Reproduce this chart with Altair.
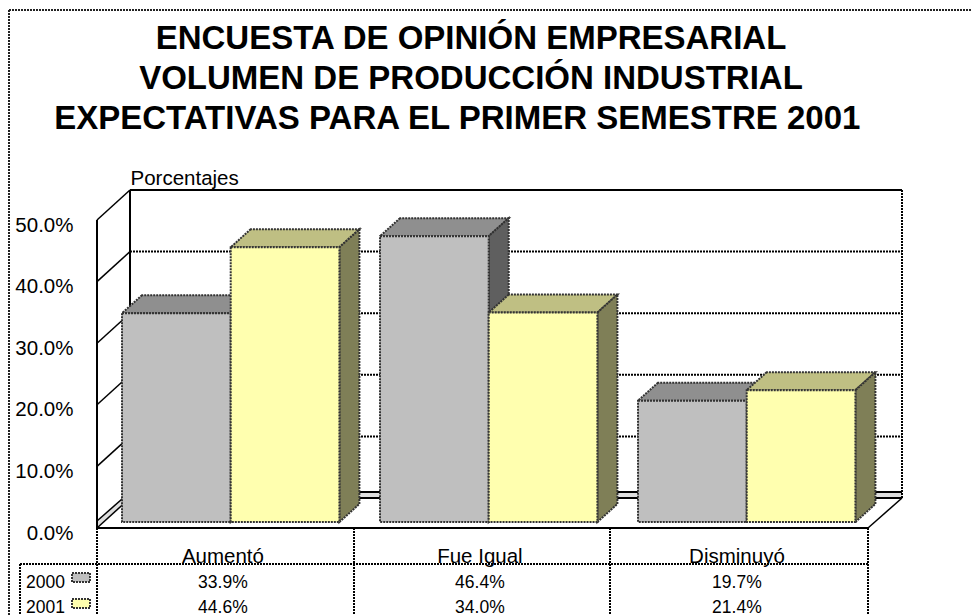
import altair as alt
import pandas as pd

title_lines = ["ENCUESTA DE OPINIÓN EMPRESARIAL",
               "VOLUMEN DE PRODUCCIÓN INDUSTRIAL",
               "EXPECTATIVAS PARA EL PRIMER SEMESTRE 2001\u00a0\u00a0\u00a0\u200b"]
categories = ["Aumentó", "Fue Igual", "Disminuyó"]
series_names = ["2000", "2001"]
values_2000 = [33.9, 46.4, 19.7]
values_2001 = [44.6, 34.0, 21.4]
y_ticks = [0, 10, 20, 30, 40, 50]

FONT = "Liberation Sans"
PX_X = 257.0      # pixels per category
PX_Y = 6.16       # pixels per percentage point
X0, Y0 = 97, 528  # page position of the front floor corner
W, H = 805, 338

def xu(px):
    return (px - X0) / PX_X

def yu(py):
    return (Y0 - py) / PX_Y

xs = alt.Scale(domain=[0, W / PX_X], nice=False, zero=False)
ys = alt.Scale(domain=[0, H / PX_Y], nice=False, zero=False)
y_axis = alt.Axis(values=y_ticks, labelExpr="format(datum.value,'.1f')+'%'",
                  grid=False, ticks=False, domain=False,
                  labelFont=FONT, labelFontSize=20.5, labelColor="black",
                  labelPadding=24, labelOffset=5,
                  titleFont=FONT, titleFontSize=20.5, titleFontWeight="normal",
                  titleColor="black", titleAngle=0, titleAlign="left",
                  titleBaseline="alphabetic", titleX=33, titleY=-6)
X = alt.X("x:Q", scale=xs, axis=None, stack=None)
Y = alt.Y("y:Q", scale=ys, axis=y_axis, stack=None, title="Porcentajes")
X2 = alt.X2("x2:Q")
Y2 = alt.Y2("y2:Q")

def rules(segs, **kw):
    df = pd.DataFrame([dict(x=xu(a), y=yu(b), x2=xu(c), y2=yu(d)) for a, b, c, d in segs])
    return alt.Chart(df).mark_rule(**kw).encode(x=X, y=Y, x2=X2, y2=Y2)

def texts(rows, **kw):
    df = pd.DataFrame(rows, columns=["x", "y", "t"])
    return alt.Chart(df).mark_text(font=FONT, color="black", baseline="alphabetic", **kw).encode(
        x=X, y=Y, text="t:N")

DOT = dict(color="black", strokeDash=[2, 1], strokeWidth=2)
SOLID = dict(color="black", strokeWidth=2)
THIN = dict(color="black", strokeWidth=1.5)
EDGE = dict(stroke="#333333", strokeDash=[2, 1], strokeWidth=2)

# Depth of the bars and of the walls in data units
BAR_LEFT = [(122 - X0) / PX_X, (380 - X0) / PX_X, (638 - X0) / PX_X]
BAR_W = 108.7 / PX_X
BAR_DX = 20 / PX_X
BAR_DY = 18 / PX_Y
BAR_BASE = 6 / PX_Y

def bar_layers(values, shift, front, top, side):
    rows_front, rows_top, rows_side = [], [], []
    for i, v in enumerate(values):
        x0 = BAR_LEFT[i] + shift * BAR_W
        x1 = x0 + BAR_W
        yb = BAR_BASE
        yt = BAR_BASE + v
        rows_front.append(dict(x=x0, x2=x1, y=yb, y2=yt))
        rows_top += [dict(id=i, y=yt, x=x0, x2=x1),
                     dict(id=i, y=yt + BAR_DY, x=x0 + BAR_DX, x2=x1 + BAR_DX)]
        rows_side += [dict(id=i, x=x1, y=yb, y2=yt),
                      dict(id=i, x=x1 + BAR_DX, y=yb + BAR_DY, y2=yt + BAR_DY)]
    t = alt.Chart(pd.DataFrame(rows_top)).mark_area(orient="horizontal", fill=top, **EDGE).encode(
        x=X, x2=X2, y=Y, detail="id:N")
    s = alt.Chart(pd.DataFrame(rows_side)).mark_area(orient="vertical", fill=side, **EDGE).encode(
        x=X, y=Y, y2=Y2, detail="id:N")
    f = alt.Chart(pd.DataFrame(rows_front)).mark_rect(fill=front, **EDGE).encode(
        x=X, x2=X2, y=Y, y2=Y2)
    return [t, s, f]

# Walls and floor
back_band = alt.Chart(pd.DataFrame([dict(x=xu(130), x2=xu(902), y=yu(498), y2=yu(492))])).mark_rect(
    fill="#dedede").encode(x=X, x2=X2, y=Y, y2=Y2)
left_band = alt.Chart(pd.DataFrame([
    dict(x=xu(97), y=yu(528), y2=yu(521)),
    dict(x=xu(130), y=yu(498), y2=yu(492))])).mark_area(orient="vertical", fill="#dedede").encode(
    x=X, y=Y, y2=Y2)

grid_y = [yu(498) + t for t in y_ticks[1:-1]]
grid_px = [Y0 - g * PX_Y for g in grid_y]
grid = rules([(130, p, 902, p) for p in grid_px] + [(902, 190, 902, 498)], **DOT)
frame = rules([(130, 190, 902, 190), (130, 190, 130, 498), (97, 220, 97, 528),
               (97, 528, 868, 528), (130, 492, 902, 492), (130, 498, 902, 498)], **SOLID)
rung_px = [Y0 - t * PX_Y for t in y_ticks]
rungs = rules([(97, p, 130, p - 30) for p in rung_px] +
              [(97, 521, 130, 492), (868, 528, 902, 498)], **THIN)

# Data table and outer border
table_lines = rules([(20, 564, 868, 564), (20, 564, 20, 615), (97, 528, 97, 615),
                     (354, 528, 354, 615), (610, 528, 610, 615), (868, 528, 868, 615)], **DOT)
border = rules([(9, 10, 980, 10), (9, 10, 9, 615)], color="#222222", strokeDash=[2, 1], strokeWidth=2)

cat_x = [i + 0.49 for i in range(3)]
cat_text = texts([(cat_x[i], yu(563), c) for i, c in enumerate(categories)],
                 fontSize=20.5, align="center")
val_text = texts([(cat_x[i], yu(588), f"{v:.1f}%") for i, v in enumerate(values_2000)] +
                 [(cat_x[i], yu(613), f"{v:.1f}%") for i, v in enumerate(values_2001)],
                 fontSize=17.5, align="center")
leg_text = texts([(xu(26), yu(588), series_names[0]), (xu(26), yu(613), series_names[1])],
                 fontSize=17.5, align="left")
swatches = alt.Chart(pd.DataFrame([
    dict(x=xu(72), x2=xu(90), y=yu(582), y2=yu(573), c="#BFBFBF"),
    dict(x=xu(72), x2=xu(90), y=yu(608), y2=yu(599), c="#FFFFAF")])).mark_rect(**EDGE).encode(
    x=X, x2=X2, y=Y, y2=Y2, fill=alt.Fill("c:N", scale=None))

layers = [border, back_band, left_band, grid, frame, rungs, table_lines]
layers += bar_layers(values_2000, 0, "#BFBFBF", "#8F8F8F", "#5F5F5F")
layers += bar_layers(values_2001, 1, "#FFFFAF", "#BFBF83", "#7F7F57")
layers += [cat_text, val_text, leg_text, swatches]

chart = alt.layer(*layers).properties(
    width=W, height=H, background="white",
    title=alt.TitleParams(text=title_lines, font=FONT, fontSize=33, fontWeight="bold", color="black",
                          lineHeight=40, anchor="middle", dx=-28.5, offset=-127),
    autosize=alt.AutoSizeParams(type="none"),
    padding={"left": 89, "top": 182, "right": 70, "bottom": 87},
).configure_view(stroke=None)

chart.save("out.html", embed_options={"renderer": "svg", "actions": False})
